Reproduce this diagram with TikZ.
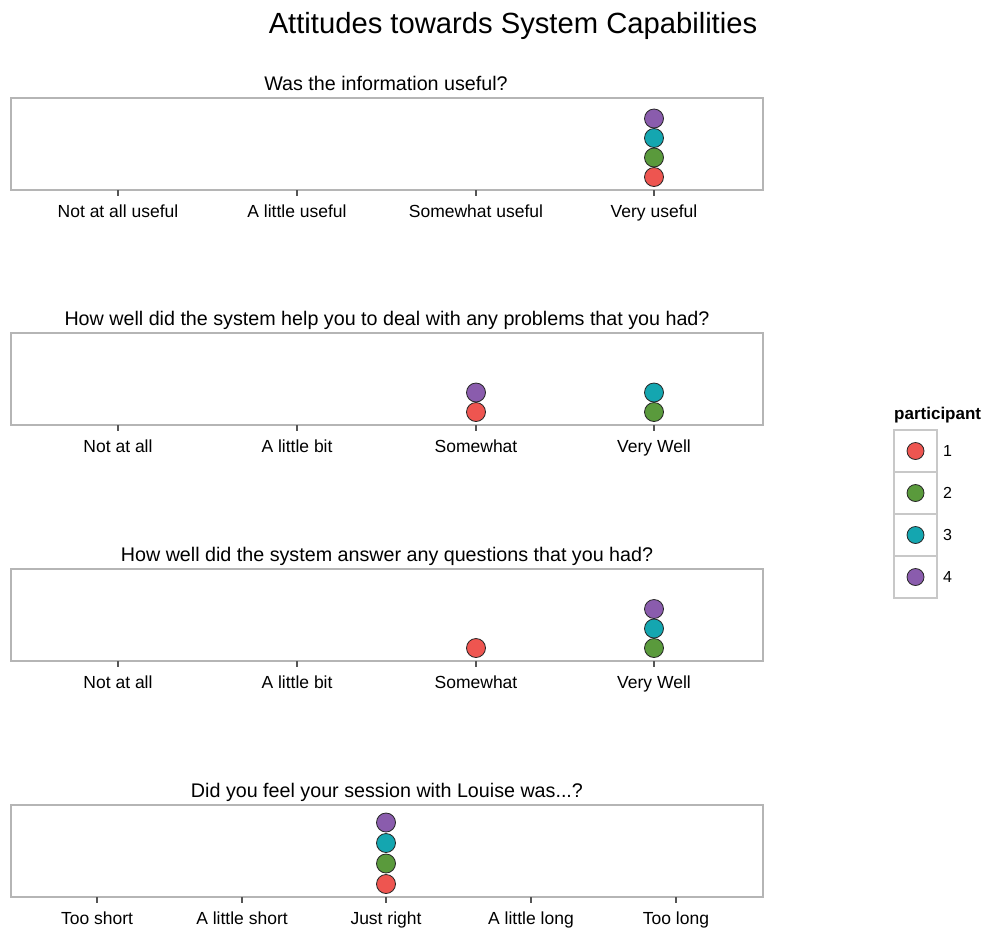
\documentclass[tikz,border=0pt]{standalone}
\usepackage{fontspec}
\setmainfont{Liberation Sans}
\definecolor{pred}{HTML}{EE5550}
\definecolor{pgreen}{HTML}{5A9A3C}
\definecolor{pteal}{HTML}{14A6B0}
\definecolor{ppurple}{HTML}{8A5CAD}
\definecolor{framegray}{HTML}{B5B5B5}
\definecolor{tickgray}{HTML}{555555}
\definecolor{keygray}{HTML}{C8C8C8}
\begin{document}
\begin{tikzpicture}[x=1pt,y=-1pt,
  frame/.style={draw=framegray,line width=1.3pt},
  tickmark/.style={draw=tickgray,line width=1.3pt},
  ticklabel/.style={anchor=base,font=\fontsize{17.5}{20}\selectfont,inner sep=0},
  ptitle/.style={anchor=base,font=\fontsize{19.7}{22}\selectfont,inner sep=0},
  dot/.style={circle,draw=black!85,line width=0.8pt,minimum size=19pt,inner sep=0},
  keydot/.style={circle,draw=black!85,line width=0.8pt,minimum size=17pt,inner sep=0},
  keybox/.style={draw=keygray,line width=1.2pt},
  keylabel/.style={anchor=west,font=\fontsize{16}{18}\selectfont,inner sep=0},
]
\useasboundingbox (0,0) rectangle (988,930);
\fill[white] (0,0) rectangle (988,930);

\node[anchor=base,font=\fontsize{29.2}{32}\selectfont,inner sep=0] (title) at (513,33) {Attitudes towards System Capabilities};

% Panel 1
\draw[frame] (11,98) rectangle (763,190);
\node[ptitle] (t1) at (386,90) {Was the information useful?};
\foreach \x/\lab [count=\i] in {118/Not at all useful,297/A little useful,476/Somewhat useful,654/Very useful}{
  \draw[tickmark] (\x,190) -- (\x,196);
  \node[ticklabel] (a1l\i) at (\x,217) {\lab};
}
\node[dot,fill=pred] (d1r) at (654,177) {};
\node[dot,fill=pgreen] (d1g) at (654,157.5) {};
\node[dot,fill=pteal] (d1t) at (654,138) {};
\node[dot,fill=ppurple] (d1p) at (654,118.5) {};

% Panel 2
\draw[frame] (11,333) rectangle (763,425);
\node[ptitle] (t2) at (387,325) {How well did the system help you to deal with any problems that you had?};
\foreach \x/\lab [count=\i] in {118/Not at all,297/A little bit,476/Somewhat,654/Very Well}{
  \draw[tickmark] (\x,425) -- (\x,431);
  \node[ticklabel] (a2l\i) at (\x,452) {\lab};
}
\node[dot,fill=pred] (d2r) at (476,412) {};
\node[dot,fill=ppurple] (d2p) at (476,392.5) {};
\node[dot,fill=pgreen] (d2g) at (654,412) {};
\node[dot,fill=pteal] (d2t) at (654,392.5) {};

% Panel 3
\draw[frame] (11,569) rectangle (763,661);
\node[ptitle] (t3) at (387,561) {How well did the system answer any questions that you had?};
\foreach \x/\lab [count=\i] in {118/Not at all,297/A little bit,476/Somewhat,654/Very Well}{
  \draw[tickmark] (\x,661) -- (\x,667);
  \node[ticklabel] (a3l\i) at (\x,688) {\lab};
}
\node[dot,fill=pred] (d3r) at (476,648) {};
\node[dot,fill=pgreen] (d3g) at (654,648) {};
\node[dot,fill=pteal] (d3t) at (654,628.5) {};
\node[dot,fill=ppurple] (d3p) at (654,609) {};

% Panel 4
\draw[frame] (11,805) rectangle (763,897);
\node[ptitle] (t4) at (387,797) {Did you feel your session with Louise was...?};
\foreach \x/\lab [count=\i] in {97/Too short,242/A little short,386/Just right,531/A little long,676/Too long}{
  \draw[tickmark] (\x,897) -- (\x,903);
  \node[ticklabel] (a4l\i) at (\x,924) {\lab};
}
\node[dot,fill=pred] (d4r) at (386,884) {};
\node[dot,fill=pgreen] (d4g) at (386,863.5) {};
\node[dot,fill=pteal] (d4t) at (386,843) {};
\node[dot,fill=ppurple] (d4p) at (386,822.5) {};

% Legend
\node[anchor=base west,font=\bfseries\fontsize{17}{20}\selectfont,inner sep=0] (legtitle) at (894,419) {participant};
\foreach \c/\lab [count=\i] in {pred/1,pgreen/2,pteal/3,ppurple/4}{
  \draw[keybox] (894,430+42*\i-42) rectangle (937,430+42*\i);
  \node[keydot,fill=\c] (k\i) at (915.5,409+42*\i) {};
  \node[keylabel] (kl\i) at (943,409+42*\i) {\lab};
}
\end{tikzpicture}
\end{document}
